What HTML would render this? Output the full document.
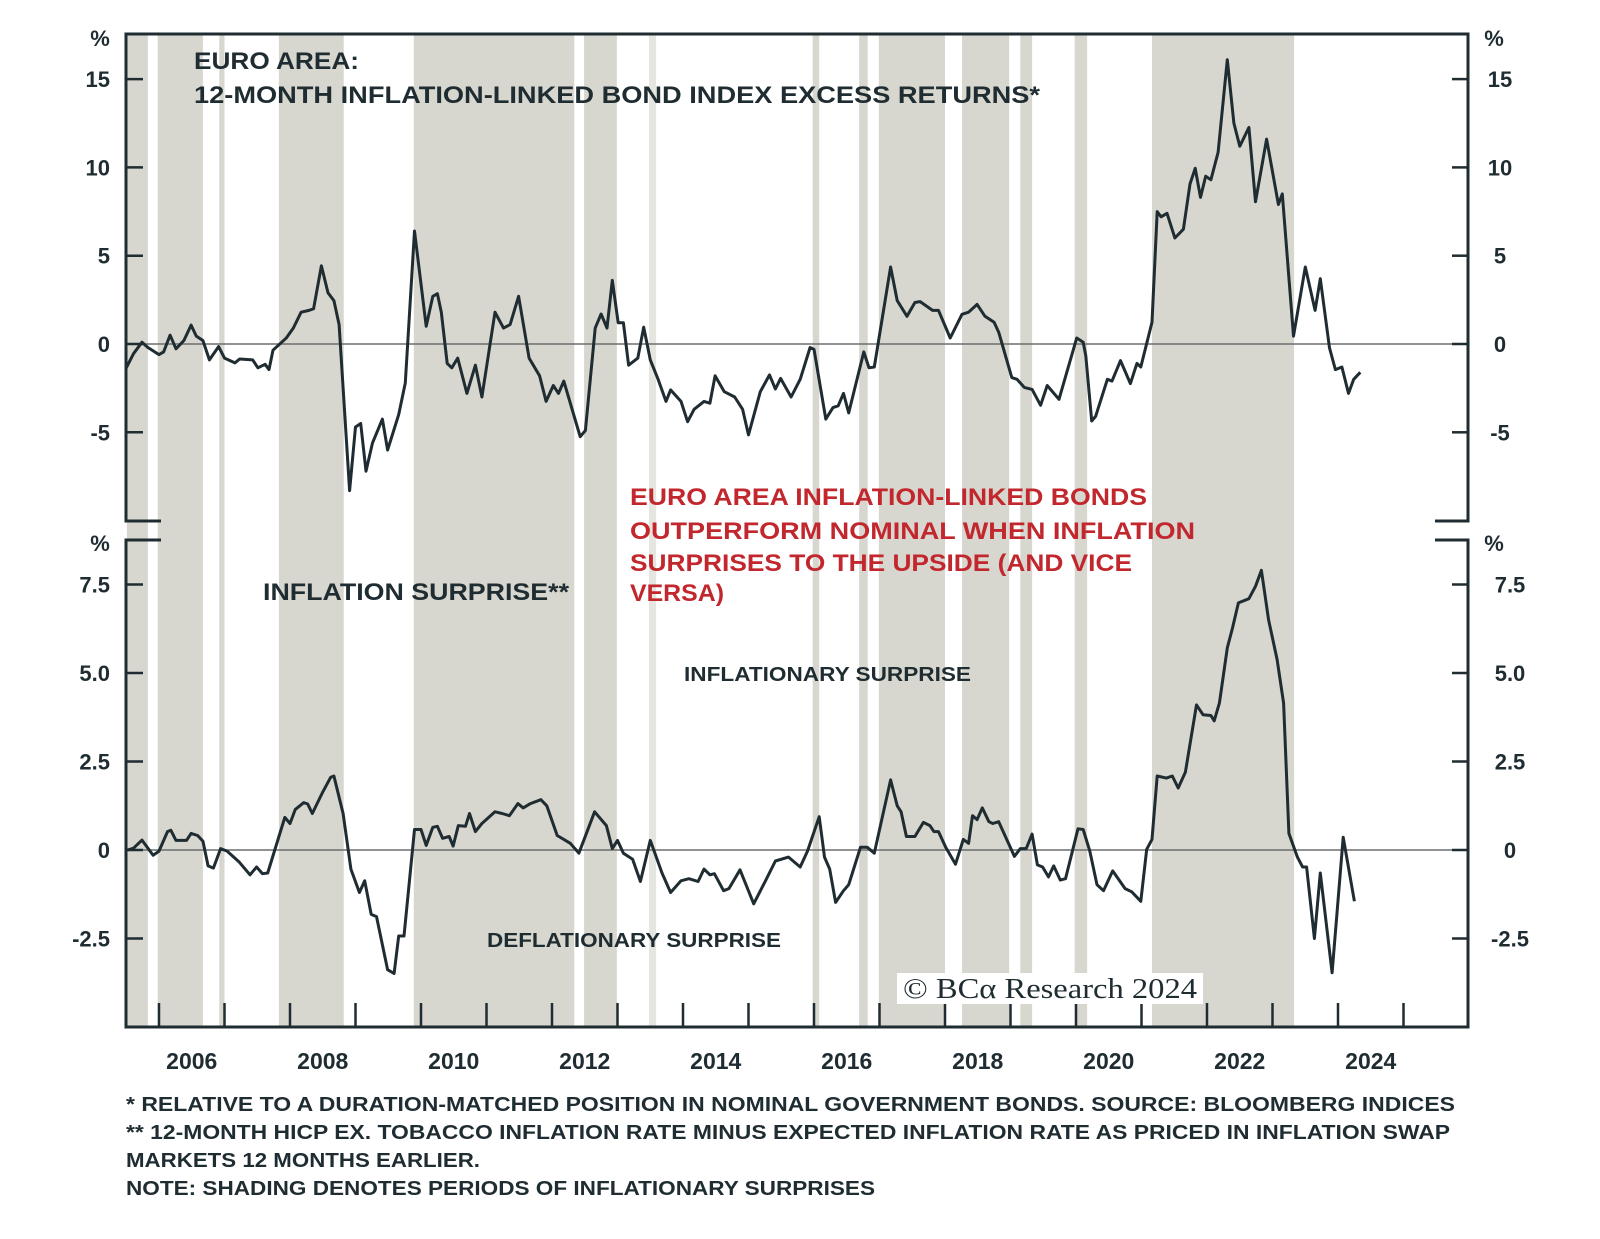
<!DOCTYPE html>
<html><head><meta charset="utf-8"><title>Euro area inflation-linked bonds</title>
<style>
html,body{margin:0;padding:0;background:#fff;}
svg{display:block;font-family:"Liberation Sans",sans-serif;}
</style></head>
<body>
<svg id="chart" width="1600" height="1239" viewBox="0 0 1600 1239" xmlns="http://www.w3.org/2000/svg">
<g id="bands"></g>
<g id="axes"></g>
<g id="series"></g>
<g id="labels" font-weight="bold" fill="#1f2c31"></g>
<text x="194" y="69" font-size="24" font-weight="bold" fill="#1f2c31" textLength="165" lengthAdjust="spacingAndGlyphs">EURO AREA:</text>
<text x="194" y="103" font-size="24" font-weight="bold" fill="#1f2c31" textLength="846" lengthAdjust="spacingAndGlyphs">12-MONTH INFLATION-LINKED BOND INDEX EXCESS RETURNS*</text>
<g font-size="24" font-weight="bold" fill="#c1272d">
<text x="630" y="505" textLength="517" lengthAdjust="spacingAndGlyphs">EURO AREA INFLATION-LINKED BONDS</text>
<text x="630" y="539" textLength="565" lengthAdjust="spacingAndGlyphs">OUTPERFORM NOMINAL WHEN INFLATION</text>
<text x="630" y="571" textLength="502" lengthAdjust="spacingAndGlyphs">SURPRISES TO THE UPSIDE (AND VICE</text>
<text x="630" y="601" textLength="94" lengthAdjust="spacingAndGlyphs">VERSA)</text>
</g>
<text x="263" y="600" font-size="24" font-weight="bold" fill="#1f2c31" textLength="306" lengthAdjust="spacingAndGlyphs">INFLATION SURPRISE**</text>
<text x="684" y="681" font-size="20" font-weight="bold" fill="#1f2c31" textLength="287" lengthAdjust="spacingAndGlyphs">INFLATIONARY SURPRISE</text>
<text x="487" y="947" font-size="20" font-weight="bold" fill="#1f2c31" textLength="294" lengthAdjust="spacingAndGlyphs">DEFLATIONARY SURPRISE</text>
<g>
<rect x="897" y="973" width="306" height="31" fill="#fff"/>
<text x="903" y="998" font-family="Liberation Serif, serif" font-size="28" fill="#1f2c31" textLength="294" lengthAdjust="spacingAndGlyphs">© BCα Research 2024</text>
</g>
<g font-size="20" font-weight="bold" fill="#1f2c31">
<text x="126" y="1111" textLength="1329" lengthAdjust="spacingAndGlyphs">*  RELATIVE TO A DURATION-MATCHED POSITION IN NOMINAL GOVERNMENT BONDS. SOURCE: BLOOMBERG INDICES</text>
<text x="126" y="1139" textLength="1324" lengthAdjust="spacingAndGlyphs">** 12-MONTH HICP EX. TOBACCO INFLATION RATE MINUS EXPECTED INFLATION RATE AS PRICED IN INFLATION SWAP</text>
<text x="126" y="1167" textLength="354" lengthAdjust="spacingAndGlyphs">MARKETS 12 MONTHS EARLIER.</text>
<text x="126" y="1195" textLength="749" lengthAdjust="spacingAndGlyphs">NOTE: SHADING DENOTES PERIODS OF INFLATIONARY SURPRISES</text>
</g>
</svg>
<script>
// ---- data ----
const bandStarts = [2005.51,2005.98,2006.92,2007.83,2009.89,2012.49,2013.48,2015.98,2016.69,2016.99,2018.26,2019.15,2019.98,2021.16];
const bandEnds   = [2005.83,2006.67,2007.00,2008.82,2012.34,2012.99,2013.59,2016.08,2016.82,2018.00,2018.98,2019.33,2020.17,2023.33];

const upperDates = [2005.50,2005.61,2005.74,2005.83,2006.00,2006.07,2006.17,2006.26,2006.38,2006.49,2006.57,2006.67,2006.77,2006.91,2007.00,2007.16,2007.23,2007.43,2007.51,2007.62,2007.68,2007.74,2007.94,2008.05,2008.17,2008.29,2008.36,2008.48,2008.58,2008.67,2008.75,2008.91,2009.00,2009.08,2009.16,2009.26,2009.41,2009.49,2009.66,2009.76,2009.90,2010.08,2010.18,2010.25,2010.31,2010.40,2010.47,2010.56,2010.70,2010.83,2010.93,2011.13,2011.26,2011.36,2011.49,2011.65,2011.81,2011.91,2012.02,2012.10,2012.18,2012.30,2012.43,2012.51,2012.66,2012.75,2012.84,2012.92,2013.01,2013.09,2013.17,2013.31,2013.40,2013.50,2013.62,2013.74,2013.81,2013.97,2014.07,2014.17,2014.32,2014.41,2014.49,2014.63,2014.79,2014.91,2015.00,2015.18,2015.32,2015.41,2015.49,2015.65,2015.79,2015.94,2016.00,2016.18,2016.29,2016.37,2016.45,2016.53,2016.76,2016.84,2016.92,2017.17,2017.27,2017.42,2017.54,2017.62,2017.81,2017.90,2018.08,2018.26,2018.36,2018.49,2018.61,2018.75,2018.82,2019.02,2019.10,2019.21,2019.33,2019.46,2019.56,2019.74,2020.01,2020.11,2020.15,2020.24,2020.30,2020.48,2020.55,2020.68,2020.83,2020.93,2020.99,2021.16,2021.24,2021.30,2021.39,2021.51,2021.64,2021.74,2021.82,2021.90,2021.98,2022.06,2022.17,2022.31,2022.41,2022.50,2022.64,2022.74,2022.91,2023.09,2023.15,2023.32,2023.50,2023.65,2023.73,2023.87,2023.96,2024.06,2024.16,2024.24,2024.34];
const upperValues = [-1.35,-0.55,0.1,-0.2,-0.6,-0.45,0.5,-0.27,0.2,1.07,0.45,0.2,-0.9,-0.15,-0.8,-1.07,-0.85,-0.9,-1.35,-1.15,-1.45,-0.35,0.33,0.9,1.8,1.9,2.0,4.43,2.9,2.46,1.1,-8.3,-4.7,-4.5,-7.2,-5.6,-4.25,-6.0,-4.0,-2.2,6.4,1.0,2.7,2.85,1.8,-1.1,-1.35,-0.8,-2.8,-1.2,-3.0,1.8,0.9,1.1,2.7,-0.8,-1.8,-3.25,-2.35,-2.8,-2.1,-3.6,-5.25,-4.9,0.9,1.7,0.9,3.6,1.2,1.2,-1.2,-0.8,0.95,-0.9,-2.0,-3.25,-2.6,-3.25,-4.4,-3.7,-3.25,-3.35,-1.8,-2.7,-3.0,-3.7,-5.15,-2.7,-1.75,-2.55,-1.95,-3.0,-2.0,-0.2,-0.3,-4.25,-3.6,-3.5,-2.8,-3.9,-0.45,-1.35,-1.3,4.36,2.46,1.57,2.35,2.4,1.9,1.9,0.34,1.68,1.8,2.24,1.57,1.23,0.67,-1.9,-2.0,-2.46,-2.57,-3.47,-2.35,-3.13,0.34,0.1,-0.67,-4.36,-4.1,-2.0,-2.1,-0.94,-2.24,-1.1,-1.3,1.23,7.5,7.2,7.4,6.0,6.5,9.06,9.95,8.3,9.5,9.3,10.85,16.1,12.5,11.2,12.26,8.05,11.6,7.9,8.5,0.45,4.36,1.9,3.7,-0.22,-1.45,-1.3,-2.8,-2.0,-1.6];

const lowerDates = [2005.52,2005.61,2005.74,2005.91,2006.00,2006.13,2006.18,2006.26,2006.42,2006.49,2006.59,2006.67,2006.75,2006.83,2006.94,2007.04,2007.22,2007.39,2007.49,2007.58,2007.66,2007.92,2008.00,2008.08,2008.21,2008.27,2008.34,2008.50,2008.62,2008.67,2008.81,2008.93,2009.06,2009.14,2009.24,2009.32,2009.49,2009.59,2009.66,2009.74,2009.90,2010.00,2010.08,2010.18,2010.25,2010.33,2010.43,2010.49,2010.57,2010.68,2010.74,2010.83,2010.93,2011.13,2011.24,2011.35,2011.48,2011.56,2011.67,2011.83,2011.92,2012.08,2012.28,2012.41,2012.65,2012.83,2012.92,2013.00,2013.09,2013.23,2013.35,2013.50,2013.68,2013.81,2013.97,2014.09,2014.23,2014.32,2014.41,2014.48,2014.62,2014.70,2014.87,2015.08,2015.26,2015.41,2015.61,2015.79,2015.90,2016.08,2016.16,2016.24,2016.33,2016.45,2016.53,2016.71,2016.81,2016.92,2017.17,2017.27,2017.33,2017.41,2017.54,2017.67,2017.77,2017.83,2017.90,2018.01,2018.16,2018.28,2018.36,2018.42,2018.49,2018.57,2018.67,2018.73,2018.82,2019.06,2019.15,2019.24,2019.33,2019.41,2019.49,2019.58,2019.66,2019.76,2019.84,2020.03,2020.11,2020.21,2020.32,2020.42,2020.56,2020.75,2020.85,2020.99,2021.08,2021.16,2021.24,2021.38,2021.47,2021.56,2021.67,2021.84,2021.94,2022.06,2022.11,2022.19,2022.31,2022.39,2022.48,2022.64,2022.74,2022.83,2022.94,2023.07,2023.17,2023.25,2023.38,2023.46,2023.52,2023.64,2023.73,2023.91,2024.08,2024.25];
const lowerValues = [0,0.05,0.28,-0.15,-0.03,0.52,0.56,0.27,0.27,0.47,0.41,0.25,-0.45,-0.51,0.04,-0.03,-0.33,-0.7,-0.48,-0.67,-0.65,0.92,0.75,1.14,1.34,1.3,1.03,1.64,2.05,2.09,1.03,-0.54,-1.2,-0.87,-1.82,-1.88,-3.38,-3.49,-2.43,-2.43,0.58,0.58,0.13,0.64,0.67,0.33,0.38,0.11,0.69,0.67,1.03,0.52,0.75,1.08,1.03,0.97,1.31,1.19,1.31,1.42,1.25,0.41,0.19,-0.09,1.08,0.69,0.04,0.27,-0.09,-0.26,-0.89,0.27,-0.65,-1.2,-0.87,-0.81,-0.89,-0.54,-0.7,-0.67,-1.15,-1.09,-0.56,-1.52,-0.87,-0.31,-0.2,-0.48,-0.03,0.94,-0.2,-0.54,-1.48,-1.15,-0.98,0.08,0.08,-0.09,1.98,1.25,1.08,0.38,0.38,0.78,0.69,0.52,0.52,0.08,-0.4,0.3,0.19,0.97,0.86,1.19,0.8,0.75,0.8,-0.18,0.04,0.04,0.45,-0.42,-0.48,-0.76,-0.45,-0.85,-0.81,0.6,0.58,-0.03,-0.98,-1.15,-0.59,-1.09,-1.18,-1.45,0.02,0.3,2.09,2.03,2.09,1.75,2.2,4.1,3.82,3.8,3.65,4.15,5.71,6.27,6.98,7.1,7.45,7.9,6.5,5.38,4.15,0.47,-0.2,-0.48,-0.48,-2.5,-0.65,-3.47,0.36,-1.45];

const upperTicks = [15,10,5,0,-5];
const upperTickLabels = ["15","10","5","0","-5"];
const lowerTicks = [7.5,5,2.5,0,-2.5];
const lowerTickLabels = ["7.5","5.0","2.5","0","-2.5"];
const yearTicks = [2006,2007,2008,2009,2010,2011,2012,2013,2014,2015,2016,2017,2018,2019,2020,2021,2022,2023,2024,2025];
const yearLabels = ["2006","2008","2010","2012","2014","2016","2018","2020","2022","2024"];

// ---- scales ----
const L=126,R=1468,TOP=34,UB=521,LT=540,BOT=1027;
function xS(y){return 159+(y-2006)*65.5;}
function yU(v){return 344-v*17.66;}
function yL(v){return 850-v*35.4;}
const NS="http://www.w3.org/2000/svg";
function mk(tag,attrs,parent){const e=document.createElementNS(NS,tag);for(const k in attrs)e.setAttribute(k,attrs[k]);parent.appendChild(e);return e;}
const INK="#1f2c31";

const bands=document.getElementById('bands');
for(let i=0;i<bandStarts.length;i++){
  const r=mk('rect',{x:xS(bandStarts[i]),y:TOP,width:xS(bandEnds[i])-xS(bandStarts[i]),height:BOT-TOP,fill:(bandEnds[i]-bandStarts[i]<0.15&&i===6)?'#e6e6e0':'#d7d7cf'},bands);
  
  
}

const axes=document.getElementById('axes');
// zero lines
let z=mk('line',{x1:L,x2:R,y1:yU(0),y2:yU(0),stroke:'#6b6f70','stroke-width':1.6},axes);


z=mk('line',{x1:L,x2:R,y1:yL(0),y2:yL(0),stroke:'#6b6f70','stroke-width':1.6},axes);


// frame
const fr=mk('path',{d:`M${L+35},${UB} H${L} V${TOP} H${R} V${UB} H${R-33} M${L+35},${LT} H${L} V${BOT} H${R} V${LT} H${R-33}`,fill:'none',stroke:INK,'stroke-width':3},axes);


const labels=document.getElementById('labels');
function tickSet(ticks,labs,yf,rightCenter,prefix){
  for(let i=0;i<ticks.length;i++){
    const y=yf(ticks[i]);
    let t=mk('line',{x1:L,x2:L+17,y1:y,y2:y,stroke:INK,'stroke-width':2.5},axes);
    
    
    t=mk('line',{x1:R-16,x2:R,y1:y,y2:y,stroke:INK,'stroke-width':2.5},axes);
    
    
    let tx=mk('text',{x:110,y:y+8,'font-size':22,'text-anchor':'end'},labels);
    tx.textContent=labs[i];
    
    
    tx=mk('text',{x:rightCenter,y:y+8,'font-size':22,'text-anchor':'middle'},labels);
    tx.textContent=labs[i];
    
    
  }
}
tickSet(upperTicks,upperTickLabels,yU,1500,'upper-y');
tickSet(lowerTicks,lowerTickLabels,yL,1510,'lower-y');
[[100,46,'upper-left-unit'],[1494,46,'upper-right-unit'],[100,551,'lower-left-unit'],[1494,551,'lower-right-unit']].forEach(p=>{
  const t=mk('text',{x:p[0],y:p[1],'font-size':22,'text-anchor':'middle'},labels);
  t.textContent='%';
  
  
});
yearTicks.forEach(yr=>{
  const t=mk('line',{x1:xS(yr),x2:xS(yr),y1:1003,y2:BOT,stroke:INK,'stroke-width':2.5},axes);
  
  
});
yearLabels.forEach(l=>{
  const t=mk('text',{x:xS(+l+0.5),y:1069,'font-size':23,'text-anchor':'middle'},labels);
  t.textContent=l;
  
  
});

const series=document.getElementById('series');
function line(dates,vals,yf,name){
  let d='';
  for(let i=0;i<dates.length;i++)d+=(i?'L':'M')+xS(dates[i]).toFixed(1)+','+yf(vals[i]).toFixed(1);
  const p=mk('path',{d:d,fill:'none',stroke:INK,'stroke-width':3,'stroke-linejoin':'round'},series);
  
  
}
line(upperDates,upperValues,yU,'excess-returns-line');
line(lowerDates,lowerValues,yL,'inflation-surprise-line');
</script>
</body></html>
